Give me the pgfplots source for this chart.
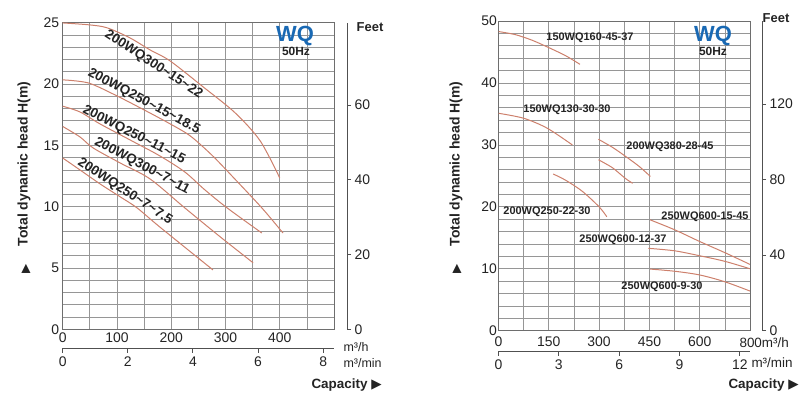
\documentclass[border=0pt]{standalone}
\usepackage{fontspec}
\setmainfont{Liberation Sans}
\newfontfamily\dejavu{DejaVu Sans}
\usepackage{pgfplots}
\pgfplotsset{compat=1.18}
\definecolor{curve}{RGB}{205,128,108}
\definecolor{gridc}{RGB}{150,150,150}
\definecolor{framec}{RGB}{110,110,110}
\definecolor{axc}{RGB}{80,80,80}
\definecolor{wqblue}{RGB}{25,105,180}
\definecolor{txt}{RGB}{35,35,35}
\newcommand{\tlfont}{\fontsize{14}{16}\selectfont}
\newcommand{\lfont}{\fontsize{13.5}{15}\selectfont\bfseries}
\newcommand{\rfont}{\fontsize{11}{13}\selectfont\bfseries}
\pgfplotsset{
  cv/.style={curve,solid,line width=1bp,mark=none,smooth},
  mainax/.style={scale only axis, anchor=south west, grid=both,
    major grid style={gridc,line width=0.7bp},
    minor grid style={gridc,line width=0.7bp},
    major tick length=0pt, minor tick length=0pt,
    axis line style={framec,line width=0.9bp},
    tick label style={font=\tlfont, text=txt},
    /pgf/number format/assume math mode=true,
  },
  secx/.style={scale only axis, anchor=south west, height=10bp,
    axis x line*=bottom, axis y line=none, ymin=0, ymax=1,
    tick align=outside, major tick length=5bp,
    axis line style={axc,line width=0.9bp}, tick style={axc,line width=0.9bp},
    tick label style={font=\tlfont, text=txt},
    /pgf/number format/assume math mode=true,
  },
  feetax/.style={scale only axis, anchor=south west, width=10bp,
    axis y line*=right, axis x line=none, xmin=0, xmax=1, ymin=0,
    tick align=outside, major tick length=4bp,
    axis line style={axc,line width=0.9bp}, tick style={axc,line width=0.9bp},
    tick label style={font=\tlfont, text=txt},
    /pgf/number format/assume math mode=true,
  },
}
\begin{document}
\begin{tikzpicture}
\path[use as bounding box] (0,0) rectangle (800bp,408bp);
% ---------------- left chart ----------------
\begin{axis}[mainax, at={(62.7bp,78.7bp)}, width=271.3bp, height=306.6bp,
  xmin=0, xmax=500, ymin=0, ymax=25,
  xtick={0,100,...,400}, minor xtick={50,150,...,500},
  ytick={0,5,...,25}, minor ytick={0,1,...,25}]
% 200WQ300-15-22
\addplot[cv] coordinates {(0,24.98) (50,24.82) (82,24.58) (124,23.76) (161,22.78) (198,21.88) (259,19.76) (318,17.64) (364,15.36) (400,12.34)};
% 200WQ250-15-18.5
\addplot[cv] coordinates {(0,20.34) (47,20.09) (96,19.12) (150,17.89) (198,16.75) (235,15.77) (275,14.2) (312,12.5) (367,9.9) (406,7.85)};
% 200WQ250-11-15
\addplot[cv] coordinates {(0,18.19) (32,17.72) (69,16.74) (131,15.28) (179,14.14) (225,12.83) (262,11.37) (303,9.9) (367,7.85)};
% 200WQ300-7-11
\addplot[cv] coordinates {(0,16.54) (32,15.68) (56,14.79) (106,13.56) (161,12.26) (225,9.9) (290,7.55) (351,5.42)};
% 200WQ250-7-7.5
\addplot[cv] coordinates {(0,13.97) (32,12.99) (69,11.85) (106,10.8) (137,9.9) (179,8.34) (277,4.84)};
\end{axis}
\begin{axis}[secx, at={(62.7bp,60bp)}, width=271.3bp, xmin=0, xmax=8.3333, xtick={0,2,4,6,8}]
\end{axis}
\begin{axis}[feetax, at={(337bp,78.7bp)}, height=306.6bp, ymax=82.021, ytick={0,20,40,60}]
\end{axis}
% labels left
\node[rotate=-33,text=txt] at (153.5bp,343.5bp) {\lfont 200WQ300\textasciitilde15\textasciitilde22};
\node[rotate=-28,text=txt] at (144bp,306.5bp) {\lfont 200WQ250\textasciitilde15\textasciitilde18.5};
\node[rotate=-27,text=txt] at (134bp,273bp) {\lfont 200WQ250\textasciitilde11\textasciitilde15};
\node[rotate=-28,text=txt] at (142bp,242bp) {\lfont 200WQ300\textasciitilde7\textasciitilde11};
\node[rotate=-33,text=txt] at (125bp,216.5bp) {\lfont 200WQ250\textasciitilde7\textasciitilde7.5};
\node[text=wqblue] at (295bp,372bp) {\fontsize{22}{24}\selectfont\bfseries WQ};
\node[text=txt] at (296bp,356.5bp) {\fontsize{12}{13}\selectfont\bfseries 50Hz};
\node[text=txt] at (370bp,380.5bp) {\fontsize{13}{15}\selectfont\bfseries Feet};
\node[rotate=90,text=txt] at (24bp,244bp) {\fontsize{14}{16}\selectfont\bfseries Total dynamic head H(m)};
\node[rotate=90,text=txt] at (26bp,139bp) {\fontsize{12}{14}\selectfont\dejavu ▶};
\node[anchor=west,text=txt] at (340bp,61bp) {\fontsize{12.5}{14}\selectfont m³/h};
\node[anchor=west,text=txt] at (340bp,45bp) {\fontsize{12.5}{14}\selectfont m³/min};
\node[anchor=west,text=txt] at (308bp,23bp) {\fontsize{13.5}{15}\selectfont\bfseries Capacity {\dejavu ▶}};
% ---------------- right chart ----------------
\begin{axis}[mainax, at={(498.5bp,77.3bp)}, width=251.5bp, height=309.7bp,
  xmin=0, xmax=750, ymin=0, ymax=50,
  xtick={0,150,...,600}, minor xtick={75,225,...,750},
  ytick={0,10,...,50}, minor ytick={0,2,...,50},
  xticklabel style={yshift=-3bp}, yticklabel style={xshift=2bp}]
\addplot[cv] coordinates {(0,48.3) (50,47.8) (100,46.9) (150,45.7) (200,44.4) (243,43.0)};
\addplot[cv] coordinates {(0,35.1) (75,34.3) (145,32.7) (220,30.0)};
\addplot[cv] coordinates {(298,30.9) (340,29.6) (380,28.1) (420,26.5) (453,24.9)};
\addplot[cv] coordinates {(298,27.6) (340,26.3) (378,24.6) (400,23.8)};
\addplot[cv] coordinates {(163,25.3) (200,24.3) (250,22.5) (300,20.0) (323,18.4)};
\addplot[cv] coordinates {(452,17.9) (525,16.3) (600,14.4) (675,12.6) (750,10.7)};
\addplot[cv] coordinates {(447,13.3) (525,12.9) (600,12.1) (675,11.2) (750,10.0)};
\addplot[cv] coordinates {(452,9.95) (525,9.6) (600,9.0) (675,7.9) (750,6.4)};
\end{axis}
\begin{axis}[secx, at={(498.5bp,57bp)}, width=251.5bp, xmin=0, xmax=12.5, xtick={0,3,6,9,12}]
\end{axis}
\begin{axis}[feetax, at={(752bp,77.3bp)}, height=309.7bp, ymax=164.04, ytick={0,40,80,120}]
\end{axis}
\node[text=txt] at (590bp,370bp) {\rfont 150WQ160-45-37};
\node[text=txt] at (567bp,298bp) {\rfont 150WQ130-30-30};
\node[text=txt] at (670bp,261bp) {\rfont 200WQ380-28-45};
\node[text=txt] at (547bp,196bp) {\rfont 200WQ250-22-30};
\node[text=txt] at (705bp,191bp) {\rfont 250WQ600-15-45};
\node[text=txt] at (623bp,168bp) {\rfont 250WQ600-12-37};
\node[text=txt] at (662bp,121bp) {\rfont 250WQ600-9-30};
\node[text=wqblue] at (713bp,372bp) {\fontsize{22}{24}\selectfont\bfseries WQ};
\node[text=txt] at (713bp,356.5bp) {\fontsize{12}{13}\selectfont\bfseries 50Hz};
\node[text=txt] at (776bp,390bp) {\fontsize{13}{15}\selectfont\bfseries Feet};
\node[rotate=90,text=txt] at (456bp,244bp) {\fontsize{14}{16}\selectfont\bfseries Total dynamic head H(m)};
\node[rotate=90,text=txt] at (457bp,139bp) {\fontsize{12}{14}\selectfont\dejavu ▶};
\node[anchor=west,text=txt] at (736bp,65bp) {\fontsize{13.5}{15}\selectfont 800m³/h};
\node[anchor=west,text=txt] at (748bp,45bp) {\fontsize{13.5}{15}\selectfont m³/min};
\node[anchor=west,text=txt] at (725bp,23bp) {\fontsize{13.5}{15}\selectfont\bfseries Capacity {\dejavu ▶}};
\end{tikzpicture}
\end{document}
